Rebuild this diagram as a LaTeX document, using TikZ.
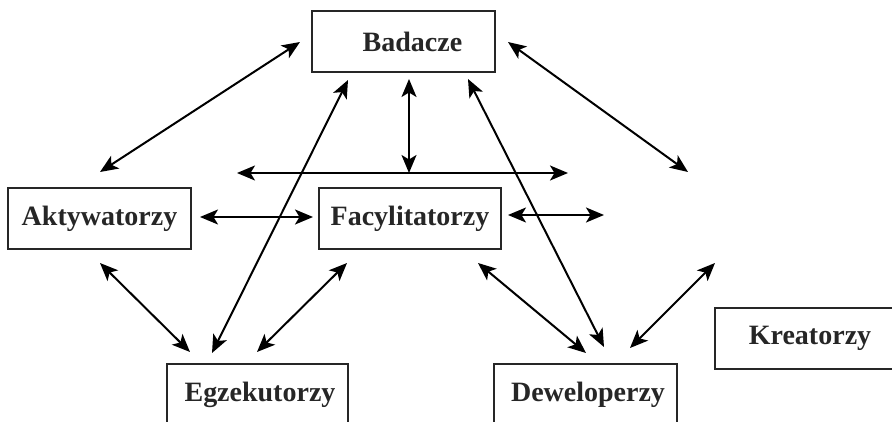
\documentclass[tikz,border=0pt]{standalone}
\usepackage{fontspec}
\setmainfont{Liberation Serif}
\usetikzlibrary{arrows.meta}
\begin{document}
\begin{tikzpicture}[x=1pt,y=-1pt,
 box/.style={draw=black!85, line width=1.6pt, minimum height=61pt, inner sep=0pt,
   font=\fontsize{28}{31}\selectfont\bfseries, text=black!85},
 link/.style={line width=2pt,
   {Stealth[length=18pt,width=15pt,inset=4.5pt]}-{Stealth[length=18pt,width=15pt,inset=4.5pt]}}]
\useasboundingbox (0,0) rectangle (892,422);
\clip (0,0) rectangle (892,422);
\node[box, minimum width=183pt] (bad) at (403.5,41.5) {\hspace*{18pt}Badacze};
\node[box, minimum width=183pt] (akt) at (99.5,218.5) {Aktywatorzy};
\node[box, minimum width=182pt] (fac) at (410,218.5) {Facylitatorzy};
\node[box, minimum width=181pt] (egz) at (257.5,394.5) {\hspace*{5pt}Egzekutorzy};
\node[box, minimum width=183pt] (dew) at (585.5,394.5) {\hspace*{5pt}Deweloperzy};
\node[box, minimum width=190pt] (kre) at (810,338.5) {Kreatorzy};
% free ends
\coordinate (b1) at (300,42);  \coordinate (a1) at (100,172);
\coordinate (b2) at (409,79);  \coordinate (h0) at (409,173);
\coordinate (hl) at (237,173); \coordinate (hr) at (568,173);
\coordinate (b3) at (508,42);  \coordinate (r1) at (688,172);
\coordinate (b4) at (348,80);  \coordinate (e1) at (212,353);
\coordinate (b5) at (468,79);  \coordinate (d1) at (604,347);
\coordinate (a2) at (200,217); \coordinate (f1) at (313,217);
\coordinate (f2) at (508,215); \coordinate (r2) at (604,215);
\coordinate (a3) at (100,263); \coordinate (e2) at (190,352);
\coordinate (f3) at (347,263); \coordinate (e3) at (257,352);
\coordinate (f4) at (478,263); \coordinate (d2) at (586,353);
\coordinate (k1) at (715,263); \coordinate (d3) at (630,348);
\draw[link] (b1) -- (a1);
\draw[link] (hl) -- (hr);
\draw[link] (b2) -- (h0);
\draw[link] (b3) -- (r1);
\draw[link] (b4) -- (e1);
\draw[link] (b5) -- (d1);
\draw[link] (a2) -- (f1);
\draw[link] (f2) -- (r2);
\draw[link] (a3) -- (e2);
\draw[link] (f3) -- (e3);
\draw[link] (f4) -- (d2);
\draw[link] (k1) -- (d3);
\end{tikzpicture}
\end{document}
